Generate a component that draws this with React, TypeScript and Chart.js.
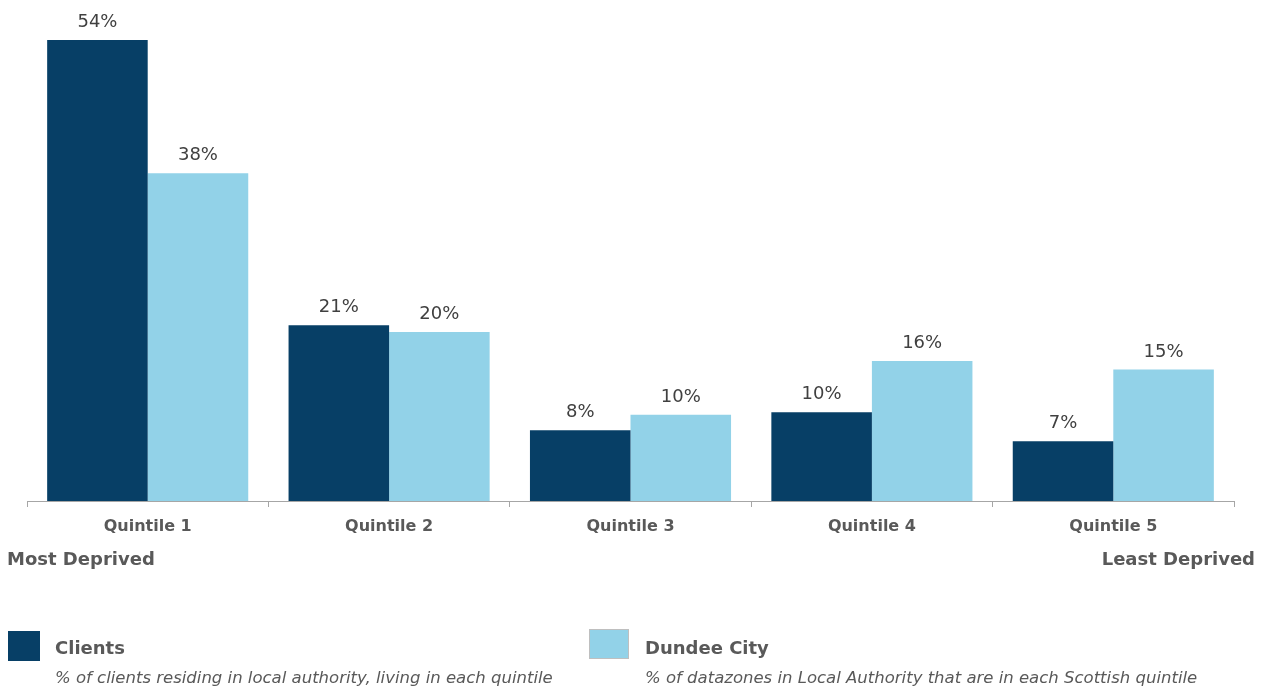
import React, { useEffect, useRef } from "react";
import { Chart, registerables } from "chart.js";

Chart.register(...registerables);

const categories = ["Quintile 1", "Quintile 2", "Quintile 3", "Quintile 4", "Quintile 5"];
const clientsValues = [54.0, 20.6, 8.3, 10.4, 7.0];
const dundeeValues = [38.4, 19.8, 10.1, 16.4, 15.4];
const seriesNames = ["Clients", "Dundee City"];
const seriesNotes = [
  "% of clients residing in local authority, living in each quintile",
  "% of datazones in Local Authority that are in each Scottish quintile",
];
const endLabels = ["Most Deprived", "Least Deprived"];

const DARK = "#073f66";
const LIGHT = "#92d2e8";
const FONT = "'DejaVu Sans', Verdana, sans-serif";

const labelsPlugin = {
  id: "labelsPlugin",
  afterDatasetsDraw(chart: any) {
    const ctx = chart.ctx;
    ctx.save();
    ctx.font = `18px ${FONT}`;
    ctx.fillStyle = "#404040";
    ctx.textAlign = "center";
    ctx.textBaseline = "alphabetic";
    chart.data.datasets.forEach((ds: any, i: number) => {
      const meta = chart.getDatasetMeta(i);
      meta.data.forEach((bar: any, j: number) => {
        const v = ds.data[j];
        ctx.fillText(Math.round(v) + "%", bar.x, bar.y - 13);
      });
    });
    ctx.font = `bold 18px ${FONT}`;
    ctx.fillStyle = "#595959";
    ctx.textAlign = "left";
    ctx.fillText(endLabels[0], 7, 565);
    ctx.textAlign = "right";
    ctx.fillText(endLabels[1], 1255, 565);
    ctx.restore();
  },
};

export default function App() {
  const ref = useRef<HTMLCanvasElement>(null);
  useEffect(() => {
    const chart = new Chart(ref.current!, {
      type: "bar",
      data: {
        labels: categories,
        datasets: [
          { label: seriesNames[0], data: clientsValues, backgroundColor: DARK },
          { label: seriesNames[1], data: dundeeValues, backgroundColor: LIGHT },
        ],
      },
      options: {
        animation: false,
        responsive: true,
        maintainAspectRatio: false,
        layout: { padding: { left: 27, right: 32, top: 0, bottom: 147 } },
        datasets: { bar: { categoryPercentage: 0.833, barPercentage: 1 } },
        plugins: { legend: { display: false }, tooltip: { enabled: false } },
        scales: {
          x: {
            afterFit(scale: any) {
              scale.height = 40;
            },
            grid: {
              offset: true,
              drawOnChartArea: false,
              drawTicks: true,
              tickLength: 6,
              color: "#a6a6a6",
            },
            border: { display: true, color: "#a6a6a6", width: 1 },
            ticks: {
              padding: 10,
              color: "#595959",
              font: { family: FONT, size: 16, weight: "bold" },
            },
          },
          y: { display: false, min: 0, max: 58.7 },
        },
      },
      plugins: [labelsPlugin],
    });
    return () => chart.destroy();
  }, []);

  const textStyle: React.CSSProperties = {
    position: "absolute",
    fontFamily: FONT,
    color: "#595959",
    whiteSpace: "nowrap",
  };

  return (
    <div style={{ position: "absolute", left: 0, top: 0, width: 1266, height: 688 }}>
      <canvas ref={ref} style={{ position: "absolute", left: 0, top: 0 }} />
      <div style={{ position: "absolute", left: 8, top: 631, width: 32, height: 30, background: DARK }} />
      <div style={{ ...textStyle, left: 55, top: 637, fontSize: 18, lineHeight: "21px", fontWeight: "bold" }}>
        {seriesNames[0]}
      </div>
      <div style={{ ...textStyle, left: 55, top: 668, fontSize: 16.5, lineHeight: "19px", fontStyle: "italic" }}>
        {seriesNotes[0]}
      </div>
      <div
        style={{
          position: "absolute",
          left: 589,
          top: 629,
          width: 38,
          height: 28,
          background: LIGHT,
          border: "1px solid #bfbfbf",
        }}
      />
      <div style={{ ...textStyle, left: 645, top: 637, fontSize: 18, lineHeight: "21px", fontWeight: "bold" }}>
        {seriesNames[1]}
      </div>
      <div style={{ ...textStyle, left: 645, top: 668, fontSize: 16.5, lineHeight: "19px", fontStyle: "italic" }}>
        {seriesNotes[1]}
      </div>
    </div>
  );
}
